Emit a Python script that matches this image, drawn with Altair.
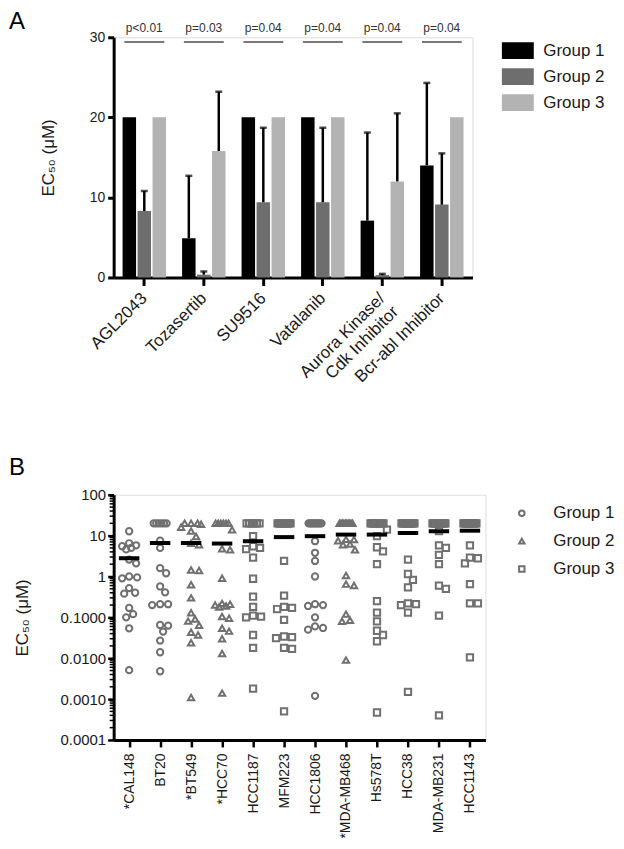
import math
import altair as alt
import pandas as pd

FONT = "Liberation Sans"
INK = "#1a1a1a"

# ---------------- Panel A data ----------------
drugs = ["AGL2043", "Tozasertib", "SU9516", "Vatalanib",
         "Aurora Kinase/|Cdk Inhibitor", "Bcr-abl Inhibitor"]
groups = ["Group 1", "Group 2", "Group 3"]
g1_mean = [20, 4.9, 20, 20, 7.1, 14.0]
g1_upper = [None, 12.7, None, None, 18.1, 24.3]
g2_mean = [8.3, 0.35, 9.4, 9.4, 0.3, 9.1]
g2_upper = [10.8, 0.75, 18.7, 18.7, 0.45, 15.5]
g3_mean = [20, 15.8, 20, 20, 12.0, 20]
g3_upper = [None, 23.2, None, None, 20.5, None]
p_values = ["p<0.01", "p=0.03", "p=0.04", "p=0.04", "p=0.04", "p=0.04"]
bar_colors = ["#000000", "#6e6e6e", "#b3b3b3"]

# ---------------- Panel B data ----------------
cell_lines = ["*CAL148", "BT20", "*BT549", "*HCC70", "HCC1187", "MFM223",
              "HCC1806", "*MDA-MB468", "Hs578T", "HCC38", "MDA-MB231", "HCC1143"]
line_group = ["Group 1", "Group 1", "Group 2", "Group 2", "Group 3", "Group 3",
              "Group 1", "Group 2", "Group 3", "Group 3", "Group 3", "Group 3"]
cal148 = [12.8, 6.5, 5.8, 5.5, 5.0, 4.6, 2.6, 2.1, 1.0, 0.95, 0.9, 0.52, 0.40, 0.38,
          0.17, 0.12, 0.10, 0.054, 0.0051]
bt20 = [20] * 6 + [7.5, 5.0, 1.6, 1.2, 0.57, 0.41, 0.21, 0.21, 0.20, 0.065, 0.063,
                   0.045, 0.027, 0.014, 0.0048]
bt549 = [20, 20, 20, 19, 16, 13, 9.5, 6.5, 6.0, 1.4, 1.45, 0.63, 0.30, 0.13, 0.091,
         0.081, 0.064, 0.043, 0.037, 0.024, 0.0011]
hcc70 = [20] * 6 + [14, 4.5, 4.8, 0.91, 0.22, 0.20, 0.19, 0.18, 0.21, 0.105, 0.095,
                    0.054, 0.046, 0.030, 0.013, 0.0014]
hcc1187 = [20] * 6 + [9.7, 5.5, 5.0, 4.7, 2.9, 0.88, 0.32, 0.18, 0.104, 0.10, 0.11,
                      0.037, 0.018, 0.0018]
mfm223 = [20] * 10 + [2.4, 0.34, 0.18, 0.16, 0.17, 0.087, 0.034, 0.031, 0.033,
                      0.017, 0.018, 0.0005]
hcc1806 = [20] * 10 + [7.3, 3.8, 2.4, 1.0, 0.20, 0.19, 0.21, 0.10, 0.055, 0.05,
                       0.06, 0.0012]
mdamb468 = [20] * 10 + [8.0, 8.1, 7.5, 6.0, 6.2, 4.5, 1.06, 0.60, 0.65, 0.12,
                        0.08, 0.085, 0.009]
hs578t = [20] * 10 + [14, 9.7, 5.2, 4.1, 2.0, 0.25, 0.13, 0.08, 0.047, 0.037,
                      0.026, 0.00047]
hcc38 = [20] * 12 + [2.6, 1.15, 0.83, 0.54, 0.22, 0.21, 0.20, 0.13, 0.0015]
mdamb231 = [20] * 12 + [12.9, 5.8, 5.0, 3.4, 2.0, 0.60, 0.50, 0.11, 0.0004]
hcc1143 = [20] * 13 + [5.8, 2.8, 2.9, 2.1, 0.65, 0.22, 0.22, 0.0105]
line_values = [cal148, bt20, bt549, hcc70, hcc1187, mfm223, hcc1806, mdamb468,
               hs578t, hcc38, mdamb231, hcc1143]
line_means = [2.8, 6.6, 6.6, 6.4, 7.3, 9.2, 9.7, 10.6, 10.6, 11.6, 12.8, 13.2]
decades = [0.0001, 0.001, 0.01, 0.1, 1, 10, 100]

# ---------------- Panel A chart ----------------
A_W, A_H = 360, 241
rows = []
for gi, (means, uppers) in enumerate([(g1_mean, g1_upper), (g2_mean, g2_upper),
                                      (g3_mean, g3_upper)]):
    for d, m, u in zip(drugs, means, uppers):
        rows.append({"drug": d, "grp": groups[gi], "val": m, "upper": u})
dfA = pd.DataFrame(rows)
dfErr = dfA.dropna(subset=["upper"])
dfP = pd.DataFrame({"drug": drugs, "p": p_values})

xaxisA = alt.Axis(title=None, labelAngle=-45, labelAlign="right", labelBaseline="middle",
                  labelExpr="split(datum.label, '|')", labelFont=FONT, labelFontSize=17,
                  labelColor=INK, labelLineHeight=19, tickSize=8, tickWidth=3,
                  tickColor="black", domainWidth=3, domainColor="black", labelPadding=10)
xA = alt.X("drug:N", sort=drugs,
           scale=alt.Scale(domain=drugs, paddingInner=0.27, paddingOuter=0.15),
           axis=xaxisA)
xoffA = alt.XOffset("grp:N", scale=alt.Scale(domain=groups, paddingInner=0.1))
yaxisA = alt.Axis(title="EC₅₀ (μM)", values=[0, 10, 20, 30], grid=False,
                  domainColor="black", domainWidth=3, tickColor="black", tickWidth=3,
                  tickSize=6, labelFont=FONT, labelFontSize=14, labelColor=INK,
                  labelPadding=3, titleFont=FONT, titleFontSize=17,
                  titleFontWeight="normal", titlePadding=32, titleColor=INK)
yscA = alt.Scale(domain=[0, 30], nice=False)

bars = alt.Chart(dfA).mark_bar().encode(
    x=xA, xOffset=xoffA,
    y=alt.Y("val:Q", scale=yscA, axis=yaxisA),
    color=alt.Color("grp:N", scale=alt.Scale(domain=groups, range=bar_colors),
                    legend=alt.Legend(title=None, orient="none", legendX=397, legendY=5,
                                      symbolType="M-2,-1.05H2V1.05H-2Z", symbolSize=256,
                                      symbolStrokeWidth=0, labelFont=FONT,
                                      labelFontSize=17, labelColor=INK, labelOffset=17,
                                      rowPadding=8)),
)
err_line = alt.Chart(dfErr).mark_rule(color="black", strokeWidth=2.5).encode(
    x=xA, xOffset=xoffA,
    y=alt.Y("val:Q", scale=yscA, axis=yaxisA), y2="upper:Q")
err_cap = alt.Chart(dfErr).mark_tick(color="black", thickness=2.5, size=7).encode(
    x=xA, xOffset=xoffA, y=alt.Y("upper:Q", scale=yscA, axis=yaxisA))
sig_line = alt.Chart(dfP).mark_tick(color="black", thickness=1.5, size=40).encode(
    x=xA, y=alt.datum(29.4, scale=yscA, axis=yaxisA))
sig_text = alt.Chart(dfP).mark_text(font=FONT, fontSize=12, color="#333333",
                                    baseline="middle").encode(
    x=xA, y=alt.datum(31.2, scale=yscA, axis=yaxisA), text="p:N")
letterA = alt.Chart(pd.DataFrame({"t": ["A"]})).mark_text(
    font=FONT, fontSize=24, align="left", baseline="top", color="black").encode(
    text="t:N", x=alt.value(-105), y=alt.value(-27))

panelA = alt.layer(bars, err_line, err_cap, sig_line, sig_text, letterA).properties(
    width=A_W, height=A_H)

# ---------------- Panel B chart ----------------
B_W, B_H = 373, 246
BAND = B_W / len(cell_lines)
PX_DEC = B_H / 6.0
DIAM = 7.2
HALF = 10.0
HALF_SAME = 6.5


def swarm(vals):
    n = len(vals)
    ys = [-math.log10(v) * PX_DEC for v in vals]
    offs = [None] * n
    same = {}
    for i, v in enumerate(vals):
        same.setdefault(v, []).append(i)
    placed = []
    for v, idxs in same.items():
        k = len(idxs)
        if k >= 3:
            step = min(DIAM, 2 * HALF_SAME / (k - 1))
            for j, i in enumerate(idxs):
                offs[i] = (j - (k - 1) / 2) * step
                placed.append((offs[i], ys[i]))
    order = sorted([i for i in range(n) if offs[i] is None], key=lambda i: ys[i])
    cands = [0.0]
    s = 1.0
    while s <= HALF:
        cands += [s, -s]
        s += 1.0
    for i in order:
        best, bestd = 0.0, -1.0
        for c in cands:
            d = min([math.hypot(c - px, ys[i] - py) for px, py in placed] or [1e9])
            if d >= DIAM:
                best = c
                break
            if d > bestd:
                bestd, best = d, c
        offs[i] = best
        placed.append((best, ys[i]))
    return offs


ptsB = []
for ci, (name, grp, vals) in enumerate(zip(cell_lines, line_group, line_values)):
    offs = swarm(vals)
    for v, o in zip(vals, offs):
        ptsB.append({"line": name, "group": grp, "ec50": v, "xpos": ci + o / BAND})
dfB = pd.DataFrame(ptsB)
dfMean = pd.DataFrame({"line": cell_lines, "m": line_means,
                       "lo": [i - 0.33 for i in range(len(cell_lines))],
                       "hi": [i + 0.33 for i in range(len(cell_lines))]})
minor = [m * d for d in decades[:-1] for m in range(2, 10)]
dfMinor = pd.DataFrame({"v": minor})

names_js = "[" + ",".join("'" + c + "'" for c in cell_lines) + "]"
xaxisB = alt.Axis(title=None, values=list(range(len(cell_lines))),
                  labelExpr=names_js + "[datum.value]", labelAngle=-90,
                  labelAlign="right", labelBaseline="middle", labelFont=FONT,
                  labelFontSize=14, labelColor=INK, tickSize=7, tickWidth=2.5,
                  tickColor="black", domainWidth=3, domainColor="black",
                  labelPadding=6, grid=False)
xscB = alt.Scale(domain=[-0.5, len(cell_lines) - 0.5], nice=False, zero=False)
yscB = alt.Scale(type="log", domain=[0.0001, 100], nice=False)
yaxisB = alt.Axis(title="EC₅₀ (μM)", values=decades, grid=False,
                  labelExpr="datum.value >= 1 ? format(datum.value, 'd') : format(datum.value, '.4f')",
                  domainColor="black", domainWidth=3, tickColor="black", tickWidth=2.5,
                  tickSize=6, labelFont=FONT, labelFontSize=15, labelColor=INK,
                  labelPadding=2, titleFont=FONT, titleFontSize=17,
                  titleFontWeight="normal", titlePadding=29, titleColor=INK)

pts = alt.Chart(dfB).mark_point(filled=False, color="#707070", strokeWidth=2,
                                size=40, opacity=1).encode(
    x=alt.X("xpos:Q", scale=xscB, axis=xaxisB),
    y=alt.Y("ec50:Q", scale=yscB, axis=yaxisB),
    shape=alt.Shape("group:N", scale=alt.Scale(domain=groups,
                                               range=["circle", "triangle-up", "square"]),
                    legend=alt.Legend(title=None, orient="none", legendX=401, legendY=10,
                                      symbolSize=30, symbolStrokeWidth=2,
                                      symbolStrokeColor="#707070", labelFont=FONT,
                                      labelFontSize=17, labelColor=INK, labelOffset=23,
                                      rowPadding=10)),
)
mean_bar = alt.Chart(dfMean).mark_rule(color="black", strokeWidth=4).encode(
    x=alt.X("lo:Q", scale=xscB, axis=xaxisB), x2="hi:Q",
    y=alt.Y("m:Q", scale=yscB, axis=yaxisB))
minor_ticks = alt.Chart(dfMinor).mark_rule(color="black", strokeWidth=1.5).encode(
    y=alt.Y("v:Q", scale=yscB, axis=yaxisB), x=alt.value(-4), x2=alt.value(0))
letterB = alt.Chart(pd.DataFrame({"t": ["B"]})).mark_text(
    font=FONT, fontSize=24, align="left", baseline="top", color="black").encode(
    text="t:N", x=alt.value(-105), y=alt.value(-39))

panelB = alt.layer(pts, mean_bar, minor_ticks, letterB).properties(width=B_W, height=B_H)

chart = alt.vconcat(panelA, panelB, spacing=60, padding=0).resolve_scale(
    color="independent", shape="independent", x="independent", y="independent"
).configure_view(stroke=None).configure(font=FONT)

chart.save("out.html", embed_options={"renderer": "svg", "actions": False})
